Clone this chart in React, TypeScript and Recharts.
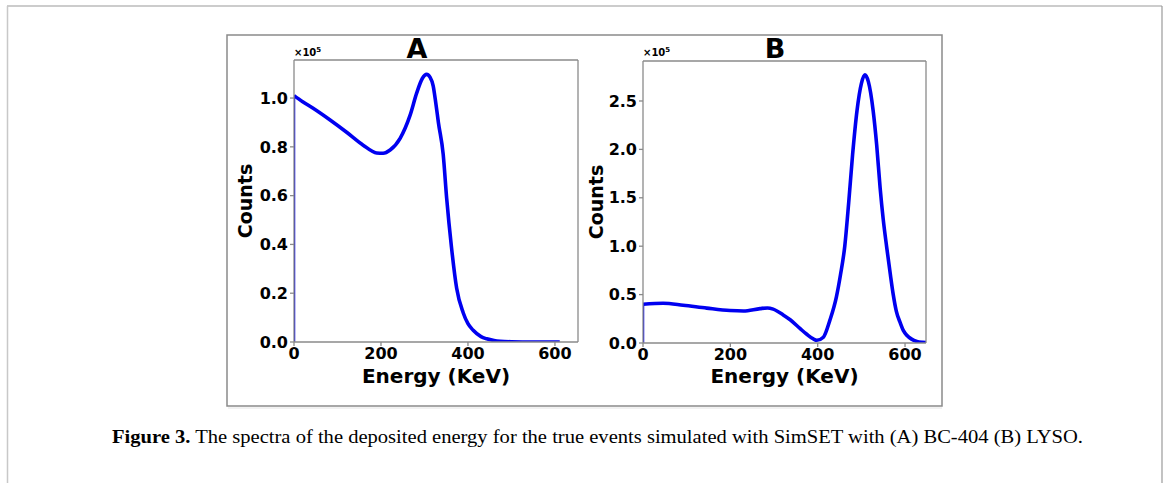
import React from 'react';
import { LineChart, Line, XAxis, YAxis } from 'recharts';

// Panel A: BC-404, counts in units of 1e5
const energyA = [0, 20, 44, 83, 121, 159, 190, 205, 221, 244, 267, 282, 295, 305, 313, 320, 326, 332, 343, 351, 362, 374, 389, 400, 412, 430, 443, 460, 474, 500, 550, 611];
const countsA = [1.01, 0.985, 0.958, 0.91, 0.86, 0.807, 0.775, 0.774, 0.787, 0.835, 0.93, 1.02, 1.08, 1.097, 1.085, 1.05, 0.98, 0.9, 0.77, 0.59, 0.39, 0.22, 0.12, 0.075, 0.048, 0.022, 0.013, 0.006, 0.003, 0.001, 0, 0];

// Panel B: LYSO, counts in units of 1e5
const energyB = [0, 46, 92, 146, 199, 230, 268, 285, 298, 321, 337, 360, 375, 390, 398, 413, 428, 443, 452, 462, 471, 480, 490, 500, 508, 516, 527, 535, 543, 550, 558, 566, 573, 580, 588, 596, 604, 615, 627, 640, 648];
const countsB = [0.4, 0.41, 0.39, 0.36, 0.335, 0.33, 0.355, 0.362, 0.35, 0.29, 0.24, 0.148, 0.09, 0.042, 0.028, 0.06, 0.236, 0.48, 0.7, 1.0, 1.45, 1.95, 2.4, 2.68, 2.77, 2.7, 2.4, 2.05, 1.6, 1.28, 0.99, 0.72, 0.5, 0.33, 0.22, 0.13, 0.08, 0.04, 0.016, 0.007, 0.005];

const xTicks = [0, 200, 400, 600];
const yTicksA = [0, 0.2, 0.4, 0.6, 0.8, 1.0];
const yTicksB = [0, 0.5, 1.0, 1.5, 2.0, 2.5];

const dataA = energyA.map((e, i) => ({ e, c: countsA[i] }));
const dataB = energyB.map((e, i) => ({ e, c: countsB[i] }));
const riserA = [{ e: energyA[0], c: 0 }, { e: energyA[0], c: countsA[0] }];
const riserB = [{ e: energyB[0], c: 0 }, { e: energyB[0], c: countsB[0] }];

const SPINE = '#8a8a8a';
const BLUE = '#0000f0';
const tickStyle = { fontFamily: 'DejaVu Sans', fontWeight: 'bold', fontSize: 16, fill: '#000' };

type PanelProps = {
  data: { e: number; c: number }[];
  riser: { e: number; c: number }[];
  xMax: number;
  yMax: number;
  yTicks: number[];
  left: number;
  width: number;
  margin: { top: number; right: number; bottom: number; left: number };
};

const Panel = ({ data, riser, xMax, yMax, yTicks, left, width, margin }: PanelProps) => (
  <div style={{ position: 'absolute', left, top: 0 }}>
    <LineChart width={width} height={420} data={data} margin={margin}>
      <XAxis
        dataKey="e"
        type="number"
        domain={[0, xMax]}
        ticks={xTicks}
        allowDataOverflow
        height={30}
        tickSize={4}
        tickMargin={2}
        stroke={SPINE}
        strokeWidth={1.3}
        tick={tickStyle}
      />
      <XAxis xAxisId="top" orientation="top" dataKey="e" type="number" domain={[0, xMax]} allowDataOverflow height={1} tick={false} tickLine={false} stroke={SPINE} strokeWidth={1.3} />
      <YAxis
        type="number"
        domain={[0, yMax]}
        ticks={yTicks}
        allowDataOverflow
        width={60}
        tickSize={4}
        tickMargin={2}
        stroke={SPINE}
        strokeWidth={1.3}
        tick={tickStyle}
        tickFormatter={(v: number) => v.toFixed(1)}
      />
      <YAxis yAxisId="right" orientation="right" type="number" domain={[0, yMax]} allowDataOverflow width={1} tick={false} tickLine={false} stroke={SPINE} strokeWidth={1.3} />
      <Line data={riser} dataKey="c" type="linear" stroke={BLUE} strokeWidth={2.5} dot={false} isAnimationActive={false} />
      <Line dataKey="c" type="monotone" stroke={BLUE} strokeWidth={3.6} dot={false} isAnimationActive={false} />
    </LineChart>
  </div>
);

const bold = { fontFamily: 'DejaVu Sans', fontWeight: 'bold' as const };

export default function App() {
  return (
    <div style={{ position: 'absolute', left: 0, top: 0, width: 1167, height: 483, background: '#fff', overflow: 'hidden' }}>
      <svg width={1167} height={483} style={{ position: 'absolute', left: 0, top: 0 }}>
        <line x1={7} y1={6} x2={1162} y2={6} stroke="#9a9a9a" strokeWidth={1.2} />
        <line x1={7.5} y1={6} x2={7.5} y2={483} stroke="#c8c8c8" strokeWidth={1.5} />
        <line x1={1162} y1={6} x2={1162} y2={483} stroke="#9a9a9a" strokeWidth={1.2} />
        <rect x={227} y={35} width={715} height={371} fill="#fff" stroke="#8a8a8a" strokeWidth={1.5} />
        <line x1={228} y1={408} x2={942} y2={408} stroke="#e4e4e4" strokeWidth={1} />

        <text x={417} y={58} textAnchor="middle" style={bold} fontSize={27}>A</text>
        <text x={775} y={58} textAnchor="middle" style={bold} fontSize={27}>B</text>

        <text x={294} y={56} style={bold} fontSize={10}>×10<tspan fontSize={7} dy={-4}>5</tspan></text>
        <text x={643} y={56} style={bold} fontSize={10}>×10<tspan fontSize={7} dy={-4}>5</tspan></text>

        <text x={245} y={201} transform="rotate(-90 245 201)" textAnchor="middle" dominantBaseline="central" style={bold} fontSize={19}>Counts</text>
        <text x={596} y={202} transform="rotate(-90 596 202)" textAnchor="middle" dominantBaseline="central" style={bold} fontSize={19}>Counts</text>

        <text x={436} y={383} textAnchor="middle" style={bold} fontSize={20}>Energy (KeV)</text>
        <text x={784.5} y={383} textAnchor="middle" style={bold} fontSize={20}>Energy (KeV)</text>

        <text x={597.5} y={443} textAnchor="middle" fontFamily="Liberation Serif" fontSize={19} textLength={971} lengthAdjust="spacingAndGlyphs">
          <tspan fontWeight="bold">Figure 3.</tspan> The spectra of the deposited energy for the true events simulated with SimSET with (A) BC-404 (B) LYSO.
        </text>
      </svg>

      <Panel data={dataA} riser={riserA} xMax={653} yMax={1.156} yTicks={yTicksA} left={200} width={400}
        margin={{ top: 59, right: 21, bottom: 48, left: 34 }} />
      <Panel data={dataB} riser={riserB} xMax={648} yMax={2.913} yTicks={yTicksB} left={580} width={360}
        margin={{ top: 60, right: 13, bottom: 47, left: 3 }} />
    </div>
  );
}
